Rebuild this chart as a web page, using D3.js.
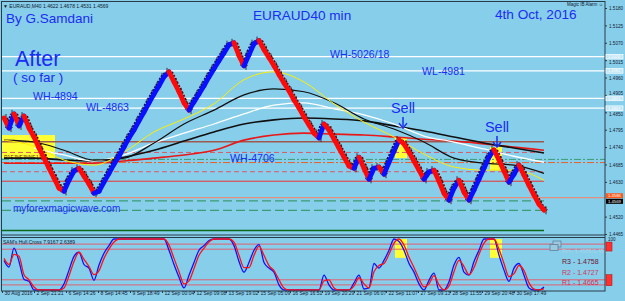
<!DOCTYPE html>
<html>
<head>
<meta charset="utf-8">
<script src="https://cdn.jsdelivr.net/npm/d3@7"></script>
<style>
body { margin: 0; background: #87ceeb; }
svg { display: block; }
text { font-family: "Liberation Sans", Arial, sans-serif; }
</style>
</head>
<body>
<div id="chart"></div>
<script>
// price closes, one value every 5 px (sample index)
let closes = [1.4832, 1.4800, 1.4845, 1.4807, 1.4838, 1.4800, 1.4772, 1.4737, 1.4705, 1.4673,
    1.4642, 1.4610, 1.4600, 1.4635, 1.4664, 1.4673, 1.4648, 1.4623, 1.4594, 1.4600,
    1.4629, 1.4657, 1.4686, 1.4711, 1.4740, 1.4769, 1.4794, 1.4823, 1.4851, 1.4880,
    1.4908, 1.4934, 1.4962, 1.4978, 1.4946, 1.4915, 1.4880, 1.4857, 1.4883, 1.4908,
    1.4934, 1.4962, 1.4988, 1.5013, 1.5038, 1.5064, 1.5070, 1.5029, 1.4997, 1.5032,
    1.5067, 1.5077, 1.5048, 1.5023, 1.4997, 1.4969, 1.4943, 1.4918, 1.4889, 1.4864,
    1.4835, 1.4810, 1.4784, 1.4769, 1.4813, 1.4794, 1.4765, 1.4737, 1.4708, 1.4680,
    1.4673, 1.4708, 1.4673, 1.4638, 1.4673, 1.4677, 1.4654, 1.4692, 1.4727, 1.4762,
    1.4750, 1.4724, 1.4696, 1.4667, 1.4638, 1.4661, 1.4667, 1.4632, 1.4594, 1.4572,
    1.4610, 1.4635, 1.4597, 1.4572, 1.4604, 1.4638, 1.4673, 1.4708, 1.4731, 1.4699,
    1.4664, 1.4629, 1.4654, 1.4683, 1.4651, 1.4619, 1.4588, 1.4559, 1.4540];

// moving averages, one value every 6 samples
let maYellow = [1.4762, 1.4743, 1.4699, 1.4683, 1.4724, 1.4788, 1.4829, 1.4877, 1.4953, 1.4978,
    1.4946, 1.4877, 1.4819, 1.4772, 1.4718, 1.4677, 1.4667, 1.4667, 1.4635];
let maBlack = [1.4762, 1.4756, 1.4730, 1.4699, 1.4705, 1.4753, 1.4813, 1.4857, 1.4905, 1.4924,
    1.4915, 1.4880, 1.4829, 1.4797, 1.4756, 1.4705, 1.4689, 1.4683, 1.4657];
let maWhite = [null, 1.4737, 1.4715, 1.4696, 1.4715, 1.4753, 1.4784, 1.4813, 1.4845, 1.4873,
    1.4880, 1.4861, 1.4842, 1.4813, 1.4775, 1.4756, 1.4734, 1.4711, 1.4692];
let maSlow = [1.4705, 1.4705, 1.4699, 1.4696, 1.4708, 1.4730, 1.4759, 1.4788, 1.4813, 1.4826,
    1.4832, 1.4829, 1.4823, 1.4807, 1.4791, 1.4772, 1.4753, 1.4737, 1.4721];
let maRed = [1.4689, 1.4689, 1.4689, 1.4689, 1.4696, 1.4705, 1.4715, 1.4730, 1.4762, 1.4778,
    1.4784, 1.4781, 1.4778, 1.4772, 1.4765, 1.4759, 1.4750, 1.4740, 1.4730];

// SAM's Hull.Cross oscillator (0-100), one value per sample
let hullBlue = [58, 45, 82, 56, 21, 17, 0, 0, 0, 0, 0, 0, 12, 39, 66, 74, 50, 43, 19, 49,
    72, 87, 100, 100, 100, 100, 100, 100, 100, 100, 100, 100, 100, 78, 50, 25, 4, 29, 54, 78,
    87, 97, 100, 100, 100, 100, 87, 56, 35, 54, 78, 89, 54, 43, 35, 10, 0, 0, 0, 0,
    0, 0, 0, 0, 29, 10, 0, 0, 0, 0, 14, 29, 2, 4, 52, 43, 58, 78, 100, 95,
    78, 52, 35, 12, 0, 19, 33, 0, 0, 16, 49, 64, 35, 29, 56, 78, 100, 100, 100, 68,
    39, 17, 43, 52, 29, 4, 0, 0, 6];
let hullRed = [62, 50, 70, 66, 30, 20, 6, 0, 0, 0, 0, 0, 4, 28, 56, 74, 60, 46, 30, 38,
    62, 80, 94, 100, 100, 100, 100, 100, 100, 100, 100, 100, 100, 88, 62, 36, 12, 18, 42, 68,
    82, 94, 100, 100, 100, 100, 94, 68, 44, 44, 68, 86, 68, 48, 38, 20, 4, 0, 0, 0,
    0, 0, 0, 0, 18, 20, 4, 0, 0, 0, 8, 24, 12, 4, 36, 48, 52, 70, 92, 100,
    88, 64, 44, 22, 6, 12, 28, 10, 0, 8, 36, 58, 46, 30, 44, 70, 92, 100, 100, 80,
    52, 26, 32, 48, 38, 14, 2, 0, 2];
let hullLevels = [90, 80, 20, 10];

let timeLabels = ["30 Aug 2016", "2 Sep 21:21", "6 Sep 14:26", "8 Sep 14:45", "9 Sep 18:49",
    "12 Sep 00:04", "12 Sep 09:08", "13 Sep 19:02", "15 Sep 05:09", "16 Sep 16:51", "19 Sep 20:29",
    "21 Sep 06:07", "22 Sep 11:07", "27 Sep 09:13", "28 Sep 11:55", "29 Sep 20:48", "30 Sep 17:49"];
let priceTicks = [1.5180, 1.5125, 1.5070, 1.5015, 1.4960, 1.4905, 1.4850, 1.4795, 1.4740,
    1.4685, 1.4630, 1.4520, 1.4465];

// wave levels (white) and pivot levels
let waveLevels = [1.5026, 1.4981, 1.4894, 1.4863];
let waveTags = ["1.5026", "1.4981", "1.4893", "1.4863"];
let pivotLevels = [1.4757, 1.4723, 1.4701, 1.4691, 1.4662, 1.4632, 1.4580, 1.4570, 1.4540, 1.4476];
let rTexts = ["R3 - 1.4758", "R2 - 1.4727", "R1 - 1.4665"];
let lastPrice = 1.4569, markPrice = 1.4586;

let width = 625, height = 301;
let blue = "#1a2cf5";

let svg = d3.select("#chart")
    .append("svg")
    .attr("width", width)
    .attr("height", height)

svg.append("rect").attr("width", width).attr("height", height).attr("fill", "#87ceeb")

let defs = svg.append("defs")
defs.append("clipPath").attr("id", "clipMain")
    .append("rect").attr("x", 2).attr("y", 2).attr("width", 603).attr("height", 232)
defs.append("clipPath").attr("id", "clipSub")
    .append("rect").attr("x", 2).attr("y", 238).attr("width", 603).attr("height", 53)

let x = d3.scaleLinear().domain([0, 108]).range([4, 544]);
let y = d3.scaleLinear().domain([1.4465, 1.5180]).range([234, 8]);
let yOsc = d3.scaleLinear().domain([0, 100]).range([290, 239]);

let main = svg.append("g").attr("clip-path", "url(#clipMain)")

// yellow highlight boxes
let boxes = [[0, 10.2, 1.4778, 1.4705], [78.2, 80.6, 1.4772, 1.4705], [97.2, 99.6, 1.4740, 1.4667]];
boxes.forEach((b, i) => {
    main.append("rect")
        .attr("x", i == 0 ? 2 : x(b[0]))
        .attr("y", y(b[2]))
        .attr("width", x(b[1]) - (i == 0 ? 2 : x(b[0])))
        .attr("height", y(b[3]) - y(b[2]))
        .attr("fill", "#ffff33")
})

// white wave levels
waveLevels.forEach((p) => {
    main.append("line")
        .attr("x1", 2).attr("x2", 605)
        .attr("y1", y(p)).attr("y2", y(p))
        .attr("stroke", "#ffffff")
        .attr("stroke-width", 1.3)
})

// pivot levels
let pivotStyle = [
    ["#a0584e", null, 1.5, false],
    ["#d85a6a", "5,3", 1, false],
    ["#3c9c74", "7,2,2,2", 1, true],
    ["#e8602c", "7,2,2,2", 1, true],
    ["#d85a6a", "5,3", 1, false],
    ["#e83030", null, 1, false],
    ["#e0907e", null, 1.2, true],
    ["#3c9c74", "9,4", 1.2, false],
    ["#3c9c74", "9,4", 1.2, false],
    ["#0a6a1a", null, 1.5, false]
];
pivotLevels.forEach((p, i) => {
    let s = pivotStyle[i];
    main.append("line")
        .attr("x1", 2).attr("x2", s[3] ? 605 : x(108))
        .attr("y1", y(p)).attr("y2", y(p))
        .attr("stroke", s[0])
        .attr("stroke-width", s[2])
        .style("stroke-dasharray", s[1])
})

main.append("text")
    .text("R1FJNFJNNFJ F1")
    .attr("x", 4).attr("y", y(1.4705) + 1)
    .attr("font-size", 5).attr("fill", "#6a1a1a")

// moving averages
let maIdx = d3.range(0, 109, 6);
let maLine = d3.line()
    .defined((d) => d[1] != null)
    .x((d) => x(d[0]))
    .y((d) => y(d[1]))
    .curve(d3.curveMonotoneX);
let maList = [[maRed, "#e81818", 1.6], [maSlow, "#101010", 1.6], [maWhite, "#ffffff", 1.3],
    [maBlack, "#101010", 1.2], [maYellow, "#ffee00", 1]];
maList.forEach((m) => {
    main.append("path")
        .datum(m[0].map((v, i) => [maIdx[i], v]))
        .attr("d", maLine)
        .attr("fill", "none")
        .attr("stroke", m[1])
        .attr("stroke-width", m[2])
})

// renko style bricks
let shadows = main.append("g");
let bodies = main.append("g");
for (let i = 1; i < closes.length; i++) {
    let up = closes[i] > closes[i - 1];
    let dx = up ? -3 : 3;
    shadows.append("line")
        .attr("x1", x(i - 1) + dx).attr("y1", y(closes[i - 1]))
        .attr("x2", x(i) + dx).attr("y2", y(closes[i]))
        .attr("stroke", up ? "#101040" : "#401010")
        .attr("stroke-width", 2)
        .style("stroke-dasharray", "2,1.5")
    bodies.append("line")
        .attr("x1", x(i - 1)).attr("y1", y(closes[i - 1]))
        .attr("x2", x(i)).attr("y2", y(closes[i]))
        .attr("stroke", up ? "#0a10ff" : "#ff0a0a")
        .attr("stroke-width", 4.8)
        .attr("stroke-linecap", "round")
}
// wicks
closes.forEach((c, i) => {
    let up = i > 0 && c > closes[i - 1];
    shadows.append("line")
        .attr("x1", x(i) + (up ? -2 : 2)).attr("x2", x(i) + (up ? -2 : 2))
        .attr("y1", y(c) - 4).attr("y2", y(c) + 4)
        .attr("stroke", "#200810")
        .attr("stroke-width", 0.8)
})

// sell arrows
let sells = [[79.8, 1.4819], [98.6, 1.4759]];
sells.forEach((s) => {
    let sx = x(s[0]), sy = y(s[1]);
    main.append("line")
        .attr("x1", sx).attr("x2", sx)
        .attr("y1", sy - 5).attr("y2", sy + 4)
        .attr("stroke", blue).attr("stroke-width", 1.5)
    main.append("path")
        .attr("d", "M" + (sx - 4) + "," + (sy + 1) + "L" + sx + "," + (sy + 6) + "L" + (sx + 4) + "," + (sy + 1))
        .attr("fill", "none").attr("stroke", blue).attr("stroke-width", 1.5)
    main.append("text")
        .text("Sell")
        .attr("x", sx).attr("y", sy - 9)
        .attr("text-anchor", "middle")
        .attr("font-size", 14.5).attr("fill", blue)
})

// annotations
let notes = [
    ["By G.Samdani", 6, 23, 13.5],
    ["EURAUD40 min", 253, 20, 13.6],
    ["4th Oct, 2016", 495, 19.2, 13.6],
    ["After", 15, 66, 21.5],
    ["( so far )", 13, 82, 13.5],
    ["WH-4894", 33, y(1.4894) + 1.5, 10.6],
    ["WL-4863", 86, y(1.4863) + 3, 10.6],
    ["WH-5026/18", 330, y(1.5026) + 1.5, 10.6],
    ["WL-4981", 422, y(1.4981) + 4, 10.6],
    ["WH-4706", 230, 162, 10.6],
    ["myforexmagicwave.com", 13, 212, 10]
];
notes.forEach((n) => {
    svg.append("text")
        .text(n[0])
        .attr("x", n[1]).attr("y", n[2])
        .attr("font-size", n[3])
        .attr("fill", blue)
})

svg.append("text")
    .text("\u25BC EURAUD,M40  1.4622 1.4678 1.4531 1.4569")
    .attr("x", 3).attr("y", 7.5)
    .attr("font-size", 5).attr("fill", "#102030")
svg.append("text")
    .text("Magic IB Alarm \u263A")
    .attr("x", 603).attr("y", 6)
    .attr("text-anchor", "end")
    .attr("font-size", 4.5).attr("fill", "#102030")

// oscillator panel
let sub = svg.append("g").attr("clip-path", "url(#clipSub)")
sub.append("rect")
    .attr("x", x(78.2)).attr("y", yOsc(100))
    .attr("width", x(80.6) - x(78.2)).attr("height", yOsc(63) - yOsc(100))
    .attr("fill", "#ffff33")
sub.append("rect")
    .attr("x", x(97.2)).attr("y", yOsc(100))
    .attr("width", x(99.6) - x(97.2)).attr("height", yOsc(63) - yOsc(100))
    .attr("fill", "#ffff33")
hullLevels.forEach((v) => {
    sub.append("line")
        .attr("x1", 2).attr("x2", 605)
        .attr("y1", yOsc(v)).attr("y2", yOsc(v))
        .attr("stroke", "#e06070").attr("stroke-width", 1)
})
let oscLine = d3.line()
    .x((d, i) => x(i))
    .y((d) => yOsc(d))
    .curve(d3.curveMonotoneX);
sub.append("path").datum(hullBlue).attr("d", oscLine)
    .attr("fill", "none").attr("stroke", "#1010ff").attr("stroke-width", 1.3)
sub.append("path").datum(hullRed).attr("d", oscLine)
    .attr("fill", "none").attr("stroke", "#ff1010").attr("stroke-width", 1.3)

svg.append("text")
    .text("SAM's Hull.Cross 7.9167 2.6389")
    .attr("x", 3).attr("y", 243.5)
    .attr("font-size", 5).attr("fill", "#102030")

// small window icon
svg.append("rect").attr("x", 553).attr("y", 241).attr("width", 8).attr("height", 6)
    .attr("fill", "#9cc8e0").attr("stroke", "#6080a0").attr("stroke-width", 0.8)
svg.append("rect").attr("x", 550).attr("y", 244.5).attr("width", 8).attr("height", 6)
    .attr("fill", "#9cc8e0").attr("stroke", "#6080a0").attr("stroke-width", 0.8)
svg.append("text")
    .text("RH - 1.4585/1.4520")
    .attr("x", 562).attr("y", 253)
    .attr("font-size", 5.5).attr("fill", "#a8d4e8")

let rColors = ["#6e1430", "#d03858", "#e02848"];
rTexts.forEach((t, i) => {
    svg.append("text")
        .text(t)
        .attr("x", 562).attr("y", 264 + i * 10.5)
        .attr("font-size", 7).attr("fill", rColors[i])
})

// frame
svg.append("rect")
    .attr("x", 1.5).attr("y", 1.5)
    .attr("width", 603.5).attr("height", 289.5)
    .attr("fill", "none").attr("stroke", "#2a3a48").attr("stroke-width", 1)
svg.append("line").attr("x1", 1.5).attr("x2", 605).attr("y1", 235).attr("y2", 235)
    .attr("stroke", "#2a3a48").attr("stroke-width", 1)
svg.append("line").attr("x1", 1.5).attr("x2", 605).attr("y1", 237.5).attr("y2", 237.5)
    .attr("stroke", "#2a3a48").attr("stroke-width", 1)

// right price axis
let yAxis = d3.axisRight(y)
    .tickValues(priceTicks)
    .tickFormat(d3.format(".4f"))
    .tickSize(2)
    .tickPadding(2)
let ag = svg.append("g")
    .attr("transform", "translate(605,0)")
    .call(yAxis)
ag.select(".domain").remove()
ag.selectAll("line").attr("stroke", "#2a3a48")
// nudge tick labels away from the level tags
ag.selectAll("text")
    .attr("font-size", 4.6).attr("fill", "#102030")
    .attr("dy", 0)
    .attr("y", (d) => {
        let off = 1.7;
        waveLevels.forEach((p) => {
            let diff = y(d) - y(p);
            if (Math.abs(diff) < 6) {
                off = diff > 0 ? -diff + 6.8 : -diff - 3.5;
            }
        })
        return off;
    })

// price tags on axis
waveLevels.forEach((p, i) => {
    svg.append("rect")
        .attr("x", 606).attr("y", y(p) - 2.3)
        .attr("width", 17).attr("height", 4.6)
        .attr("fill", "#bfe6f5").attr("stroke", "#ffffff").attr("stroke-width", 0.7)
    svg.append("text")
        .text(waveTags[i])
        .attr("x", 608).attr("y", y(p) + 1.5)
        .attr("font-size", 4).attr("fill", "#ffffff")
})
svg.append("rect").attr("x", 606).attr("y", y(markPrice) - 2.5)
    .attr("width", 17).attr("height", 5).attr("fill", "#ff5a1a")
svg.append("text").text(markPrice.toFixed(4))
    .attr("x", 608).attr("y", y(markPrice) + 1.4)
    .attr("font-size", 4.2).attr("fill", "#ffffff")
svg.append("rect").attr("x", 606).attr("y", y(lastPrice) - 2.3)
    .attr("width", 17).attr("height", 5).attr("fill", "#000000")
svg.append("text").text(lastPrice.toFixed(4))
    .attr("x", 608).attr("y", y(lastPrice) + 2)
    .attr("font-size", 4.2).attr("fill", "#ffffff")

// oscillator axis tags
svg.append("text").text("100").attr("x", 608).attr("y", 240.5)
    .attr("font-size", 4.5).attr("fill", "#102030")
svg.append("rect").attr("x", 606).attr("y", yOsc(94)).attr("width", 6).attr("height", 9)
    .attr("fill", "#ff3030").attr("stroke", "#a01010").attr("stroke-width", 0.5)
svg.append("rect").attr("x", 606).attr("y", yOsc(30)).attr("width", 6).attr("height", 11)
    .attr("fill", "#ff3030").attr("stroke", "#a01010").attr("stroke-width", 0.5)

// time axis
let tickStep = 6.4;
let xAxis = d3.axisBottom(x)
    .tickValues(timeLabels.map((d, i) => i * tickStep - 0.4))
    .tickFormat((d, i) => timeLabels[i])
    .tickSize(2)
    .tickPadding(0)
let xg = svg.append("g")
    .attr("transform", "translate(0,291)")
    .call(xAxis)
xg.select(".domain").remove()
xg.selectAll("line").attr("stroke", "#2a3a48")
xg.selectAll("text")
    .attr("font-size", 5).attr("fill", "#102030")
    .attr("text-anchor", "start").attr("dx", 2).attr("dy", "0.4em")
</script>
</body>
</html>
